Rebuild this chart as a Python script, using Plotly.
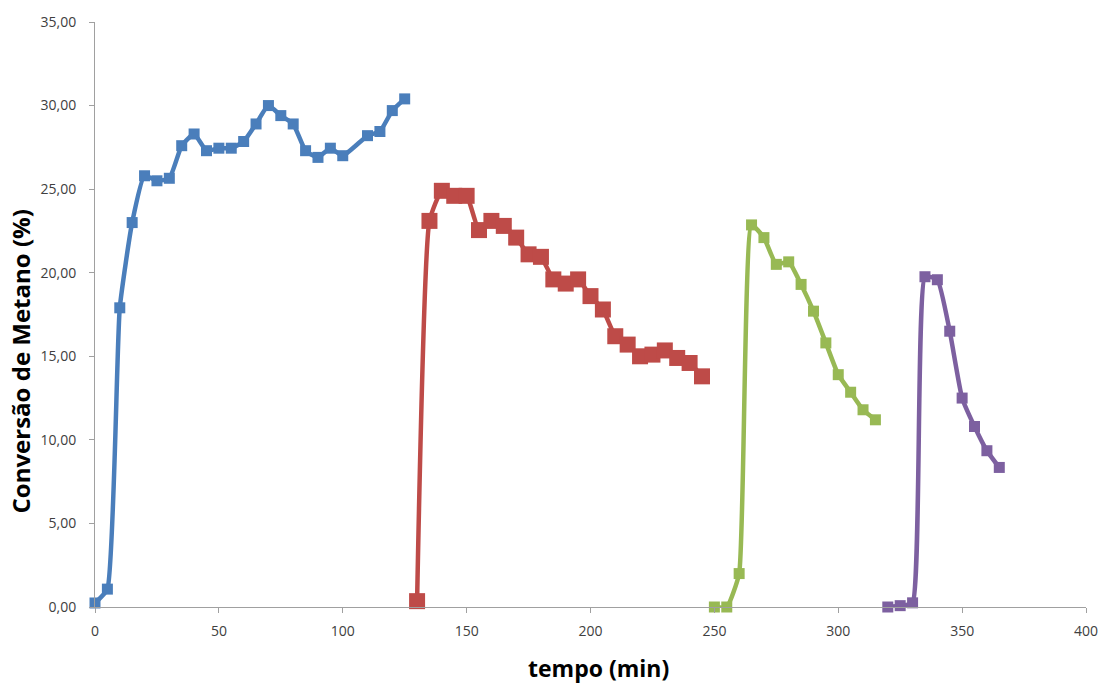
import plotly.graph_objects as go

# Series 1 (blue)
t1 = [0, 5, 10, 15, 20, 25, 30, 35, 40, 45, 50, 55, 60, 65, 70, 75, 80, 85, 90, 95, 100, 110, 115, 120, 125]
y1 = [0.24, 1.07, 17.9, 23.0, 25.8, 25.5, 25.65, 27.6, 28.3, 27.3, 27.45, 27.45, 27.85, 28.9, 30.0, 29.4, 28.9, 27.3, 26.9, 27.45, 27.0, 28.2, 28.45, 29.7, 30.4]

# Series 2 (red)
t2 = [130, 135, 140, 145, 150, 155, 160, 165, 170, 175, 180, 185, 190, 195, 200, 205, 210, 215, 220, 225, 230, 235, 240, 245]
y2 = [0.35, 23.1, 24.9, 24.6, 24.6, 22.55, 23.1, 22.8, 22.1, 21.1, 20.95, 19.6, 19.35, 19.6, 18.6, 17.8, 16.2, 15.7, 15.0, 15.1, 15.35, 14.9, 14.6, 13.8]

# Series 3 (green)
t3 = [250, 255, 260, 265, 270, 275, 280, 285, 290, 295, 300, 305, 310, 315]
y3 = [0.0, 0.0, 2.0, 22.86, 22.1, 20.5, 20.65, 19.3, 17.7, 15.8, 13.9, 12.85, 11.8, 11.2]

# Series 4 (purple)
t4 = [320, 325, 330, 335, 340, 345, 350, 355, 360, 365]
y4 = [0.0, 0.08, 0.25, 19.76, 19.58, 16.5, 12.5, 10.8, 9.35, 8.35]

x_ticks = [0, 50, 100, 150, 200, 250, 300, 350, 400]
y_ticks = [0, 5, 10, 15, 20, 25, 30, 35]

series = [
    (t1, y1, "#4A7EBB", 11),
    (t2, y2, "#BE4B48", 16),
    (t3, y3, "#98B954", 11),
    (t4, y4, "#7D60A0", 11),
]

fig = go.Figure()
for t, y, c, ms in series:
    fig.add_trace(go.Scatter(
        x=t, y=y, mode="lines+markers",
        line=dict(color=c, width=4.5, shape="spline", smoothing=0.45),
        marker=dict(symbol="square", size=ms, color=c),
        showlegend=False, cliponaxis=False,
    ))

fig.update_layout(
    width=1110, height=686,
    margin=dict(l=95, r=20, t=17, b=79),
    paper_bgcolor="white", plot_bgcolor="white",
    separators=",.",
    font=dict(family="Open Sans", color="#404040"),
    annotations=[
        dict(text="<b>tempo (min)</b>", xref="paper", yref="paper",
             x=0.508, y=-0.104, xanchor="center", yanchor="middle",
             showarrow=False, font=dict(size=23, color="black")),
        dict(text="<b>Conversão de Metano (%)</b>", xref="paper", yref="paper",
             x=-0.0755, y=0.42, xanchor="center", yanchor="middle", textangle=-90,
             showarrow=False, font=dict(size=24, color="black")),
    ],
)
fig.update_xaxes(
    range=[0, 400], tickvals=x_ticks, showgrid=False, zeroline=False,
    showline=True, linecolor="#A0A0A0", linewidth=1,
    ticks="outside", ticklen=5, tickcolor="#A0A0A0",
    ticklabelstandoff=6,
    tickfont=dict(size=14, color="#404040"),
)
fig.update_yaxes(
    range=[0, 35], tickvals=y_ticks, tickformat=".2f", showgrid=False, zeroline=False,
    showline=True, linecolor="#A0A0A0", linewidth=1,
    ticks="outside", ticklen=5, tickcolor="#A0A0A0",
    ticklabelstandoff=10,
    tickfont=dict(size=14, color="#404040"),
)

fig.write_html("out.html")
